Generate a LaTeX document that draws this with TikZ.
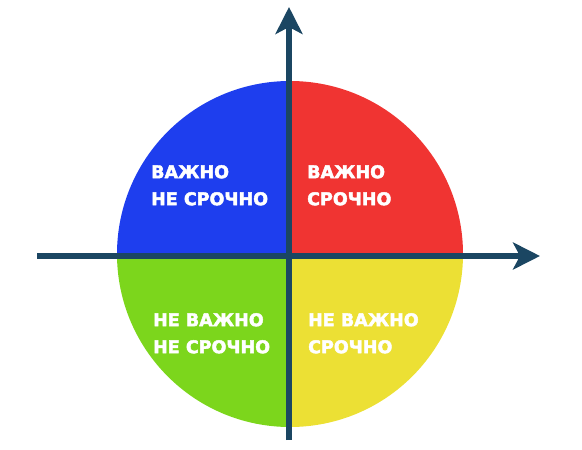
\documentclass[tikz,border=0pt]{standalone}
\usepackage{fontspec}
\setmainfont{DejaVu Sans}[BoldFeatures={FakeBold=2.5}]
\usetikzlibrary{arrows.meta}
\definecolor{axisblue}{RGB}{27,70,98}
\definecolor{qblue}{RGB}{30,62,238}
\definecolor{qred}{RGB}{240,52,50}
\definecolor{qgreen}{RGB}{124,214,28}
\definecolor{qyellow}{RGB}{236,224,52}
\begin{document}
\begin{tikzpicture}[x=1pt,y=-1pt,
    axis/.style={draw=axisblue,line width=6pt,-{Stealth[length=27pt,width=27pt,inset=7pt]}},
    label/.style={anchor=north west,inner sep=0pt,align=left,text=white,
      font=\fontsize{17.5}{27}\selectfont\bfseries}]
                \useasboundingbox (0,0) rectangle (582,450);
                %CIRCLE
                \begin{scope}
                \clip (290,254) circle (173);
                \fill[qblue] (100,60) rectangle (290,256);
                \fill[qred] (290,60) rectangle (480,256);
                \fill[qgreen] (100,256) rectangle (290,440);
                \fill[qyellow] (290,256) rectangle (480,440);
                \end{scope}

                %NODE
                \node[label] (IN) at (151,165) {ВАЖНО\\НЕ СРОЧНО};
                \node[label] (IU) at (307,165) {ВАЖНО\\СРОЧНО};
                \node[label] (NN) at (153,313) {НЕ ВАЖНО\\НЕ СРОЧНО};
                \node[label] (NU) at (308,313) {НЕ ВАЖНО\\СРОЧНО};
                \coordinate (X0) at (37,256);
                \coordinate (X1) at (540,256);
                \coordinate (Y0) at (289,440);
                \coordinate (Y1) at (289,7);

                %EDGE
                \draw[axis] (X0) -- (X1);
                \draw[axis] (Y0) -- (Y1);
            \end{tikzpicture}
\end{document}
